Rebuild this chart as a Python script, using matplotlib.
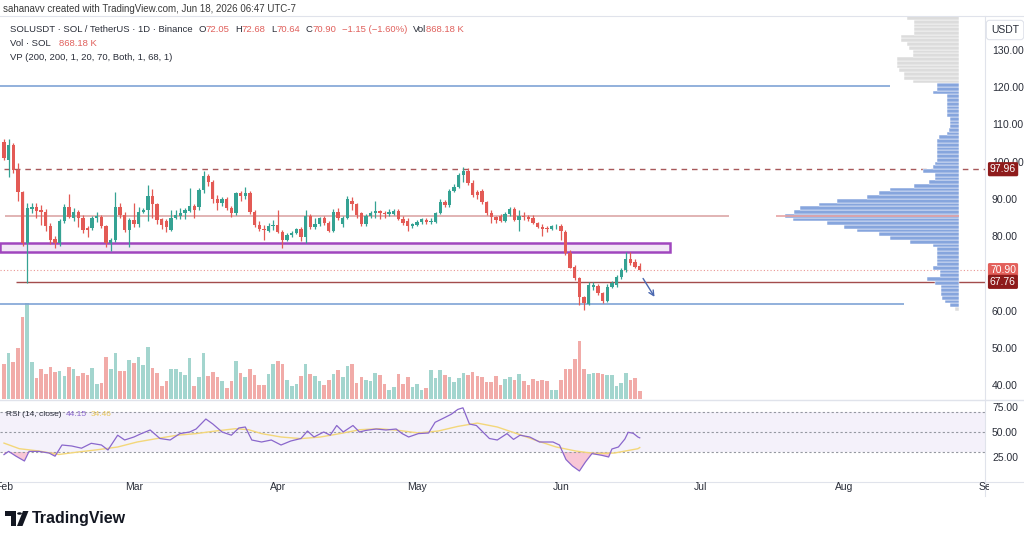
import numpy as np
import matplotlib
matplotlib.use('Agg')
import matplotlib.pyplot as plt
from matplotlib.patches import Rectangle, Polygon, Circle
from matplotlib.transforms import blended_transform_factory, Bbox, TransformedBbox
from matplotlib.lines import Line2D

plt.rcParams['font.family'] = ['Liberation Sans', 'DejaVu Sans']

W, H = 1024, 537

# ---------------- data ----------------
# daily candles, day 0 = 2026-02-01
open_ = [105.3, 100.4, 104.4, 97.7, 91.9, 78.1, 87.3, 87.8, 86.9, 86.5,
         82.6, 79.2, 78.1, 84.2, 87.9, 85.0, 86.4, 85.0, 82.3, 82.1,
         84.9, 85.2, 82.6, 78.1, 79.0, 87.9, 85.7, 81.7, 84.3, 83.4,
         86.6, 87.0, 90.8, 88.6, 84.5, 84.0, 81.7, 84.8, 85.4, 86.3,
         86.8, 88.1, 87.7, 92.4, 96.1, 94.6, 89.9, 89.0, 89.9, 87.5,
         86.1, 91.5, 90.8, 91.6, 86.6, 83.0, 82.0, 81.5, 82.6, 83.0,
         81.2, 79.0, 80.3, 80.8, 81.8, 79.7, 85.4, 82.4, 83.3, 84.8,
         83.6, 81.4, 86.6, 83.4, 84.9, 89.3, 88.6, 86.1, 83.3, 85.4,
         86.1, 86.8, 86.1, 85.9, 86.0, 86.8, 84.5, 84.2, 82.6, 83.0,
         83.9, 84.3, 83.7, 83.9, 86.1, 89.2, 88.4, 92.2, 93.3, 96.4,
         97.6, 94.2, 91.9, 92.2, 89.2, 86.3, 85.1, 85.4, 84.2, 86.0,
         87.2, 84.4, 85.4, 85.2, 84.8, 83.5, 82.4, 82.2, 82.0, 82.6,
         82.8, 81.2, 75.6, 71.8, 68.7, 63.6, 61.8, 66.5, 66.7, 64.7,
         62.5, 66.5, 66.9, 69.1, 70.9, 74.0, 73.2, 72.05]
high = [106.0, 106.0, 104.9, 99.5, 92.0, 89.0, 88.9, 88.8, 88.3, 87.2,
        83.5, 80.0, 84.6, 88.5, 91.3, 87.5, 87.1, 85.7, 82.8, 85.4,
        86.6, 85.7, 83.0, 79.4, 91.9, 89.0, 86.6, 85.0, 89.0, 87.9,
        87.5, 93.7, 92.6, 89.0, 85.0, 84.5, 87.0, 87.0, 87.5, 87.5,
        92.8, 88.6, 93.0, 97.5, 96.6, 95.0, 91.0, 90.5, 90.6, 88.0,
        91.9, 92.1, 93.3, 92.0, 87.0, 84.0, 83.0, 83.5, 84.3, 87.0,
        81.7, 80.8, 81.5, 82.3, 82.5, 87.0, 86.0, 85.0, 85.2, 85.5,
        84.2, 87.2, 87.5, 85.5, 90.8, 90.6, 89.0, 86.6, 86.0, 86.8,
        89.5, 87.0, 86.8, 87.2, 87.2, 87.2, 85.4, 85.0, 83.6, 84.3,
        84.8, 85.0, 84.8, 86.6, 89.9, 89.7, 92.7, 94.0, 96.9, 98.5,
        98.2, 95.0, 92.4, 92.7, 89.5, 87.0, 85.4, 86.0, 86.5, 87.7,
        87.7, 87.0, 86.6, 85.7, 85.7, 83.9, 83.3, 82.6, 83.0, 83.3,
        83.3, 81.7, 76.3, 72.3, 69.1, 64.0, 67.8, 67.8, 67.2, 65.0,
        67.2, 68.0, 69.6, 71.5, 75.8, 75.8, 74.0, 72.68]
low = [100.4, 96.0, 97.0, 89.3, 77.5, 67.5, 86.1, 84.8, 83.0, 81.5,
       78.0, 76.7, 77.4, 83.5, 84.8, 84.0, 82.5, 80.8, 79.7, 81.6,
       83.9, 82.1, 77.0, 75.9, 78.5, 85.0, 81.0, 77.2, 82.4, 82.5,
       86.1, 84.2, 84.8, 83.4, 82.0, 81.2, 81.5, 84.5, 84.5, 84.5,
       86.6, 85.0, 87.0, 91.5, 93.5, 89.0, 87.0, 88.0, 87.0, 85.2,
       85.7, 89.5, 90.0, 86.0, 82.5, 81.5, 79.0, 81.2, 81.7, 80.9,
       76.7, 78.8, 79.8, 80.5, 78.8, 78.1, 82.0, 82.0, 82.8, 83.0,
       81.0, 81.2, 84.3, 82.5, 84.7, 87.0, 85.0, 82.7, 82.8, 85.0,
       85.0, 84.5, 84.8, 85.5, 85.7, 84.3, 83.0, 81.5, 82.1, 82.6,
       83.3, 83.3, 83.4, 83.5, 85.9, 87.7, 87.9, 91.8, 92.8, 94.4,
       93.7, 90.5, 90.1, 88.7, 85.7, 83.5, 83.6, 83.9, 83.9, 85.4,
       84.2, 81.5, 84.4, 84.2, 83.3, 82.1, 80.0, 81.2, 81.6, 82.0,
       79.0, 75.0, 71.4, 68.3, 61.6, 60.2, 61.6, 65.6, 64.2, 62.0,
       62.3, 66.0, 66.5, 68.5, 70.5, 72.3, 71.4, 70.64]
close = [100.9, 104.4, 97.7, 91.9, 78.1, 87.5, 87.8, 86.8, 86.5, 82.6,
         79.0, 78.1, 84.2, 87.9, 85.2, 86.4, 85.0, 81.7, 81.6, 84.8,
         85.4, 82.6, 78.1, 79.0, 87.9, 85.7, 81.7, 84.3, 83.4, 86.6,
         87.0, 90.8, 88.6, 84.3, 83.0, 82.5, 84.8, 85.7, 86.3, 87.0,
         88.1, 86.9, 92.4, 96.1, 94.6, 89.9, 89.0, 89.9, 87.5, 86.1,
         91.5, 90.8, 91.6, 86.6, 83.0, 81.8, 81.7, 82.6, 83.0, 81.2,
         79.0, 80.3, 80.8, 81.8, 79.7, 85.4, 82.4, 83.3, 84.8, 83.6,
         81.4, 86.6, 84.8, 84.9, 90.1, 88.6, 85.7, 83.3, 85.4, 86.1,
         86.8, 86.1, 85.9, 86.5, 86.8, 84.5, 83.6, 82.6, 83.3, 83.9,
         84.5, 83.9, 84.2, 86.1, 89.2, 88.4, 92.2, 93.3, 96.4, 97.6,
         94.2, 91.0, 91.0, 89.2, 86.3, 85.1, 84.4, 84.2, 86.0, 87.2,
         84.4, 85.4, 85.1, 84.5, 83.5, 82.4, 82.0, 81.8, 82.6, 82.8,
         81.5, 75.4, 71.6, 68.7, 63.8, 62.0, 66.9, 67.0, 64.7, 62.5,
         66.5, 67.4, 69.1, 70.9, 73.8, 72.7, 71.8, 70.90]
# volume, relative units (last bar = 868.18 K)
volume = [105, 138, 112, 153, 247, 288, 111, 63, 91, 74,
          95, 80, 85, 68, 97, 89, 69, 79, 72, 93,
          45, 47, 127, 89, 138, 83, 84, 117, 108, 126,
          103, 156, 93, 79, 38, 53, 90, 90, 80, 73,
          123, 38, 66, 138, 70, 82, 66, 55, 33, 55,
          113, 78, 67, 89, 72, 42, 42, 76, 106, 115,
          104, 57, 40, 44, 68, 106, 75, 69, 55, 41,
          56, 74, 87, 66, 98, 105, 49, 65, 58, 53,
          79, 73, 46, 28, 37, 75, 44, 65, 36, 46,
          28, 34, 87, 62, 87, 73, 67, 50, 64, 78,
          71, 80, 68, 67, 50, 50, 69, 43, 60, 67,
          56, 74, 54, 41, 59, 53, 58, 53, 27, 27,
          58, 90, 91, 121, 173, 89, 75, 77, 78, 75,
          73, 72, 39, 48, 79, 56, 62, 24]
# RSI(14) and its moving average, read as (day, value) points
rsi_day = [0, 1, 2.6, 4.4, 5.4, 7.5, 9.7, 11, 12.5, 14.6, 16.7, 18.8, 21, 22.4,
           24.5, 26, 28, 29.4, 31.5, 33.6, 35.8, 37.9, 40, 41.4, 43.5, 45, 47,
           49, 50.6, 52, 53.4, 55.5, 57.6, 59.7, 61.8, 64, 65.4, 66.8, 68.9,
           70.3, 71.7, 73.1, 75.2, 76.6, 78, 80.2, 82.3, 84.5, 85.8, 87.2, 89.3,
           91.5, 92.9, 95, 96.4, 97.8, 98.9, 100.3, 101.8, 103.2, 104.6, 106.3,
           108.4, 109.8, 111.2, 113.3, 115.4, 118.3, 119.7, 121.1, 122.5, 124,
           125.3, 126.7, 128.8, 130.3, 131, 132.4, 133.8, 134.5, 135.6, 136.6, 137]
rsi_val = [27.4, 30.6, 25.8, 21, 30.6, 30.6, 29, 25.8, 37, 36, 33.8, 38.7, 37, 32,
           46.8, 42, 45, 48, 52, 43.5, 42, 48.4, 50, 53, 63, 58, 50,
           46.8, 54, 55, 42, 40, 42, 37, 41, 43.5, 51, 45, 50,
           46.8, 56.5, 50, 56.5, 50, 51.6, 53, 52, 53, 48.4, 45, 48.4,
           49, 59.7, 64.5, 67.8, 72.6, 74.2, 58, 56.5, 50, 43.5, 42,
           48.4, 42.6, 46.8, 45, 40, 40, 37, 22.5, 16, 11,
           20, 28.4, 26.7, 25, 33, 35, 43, 49.7, 48.7, 45, 44.15]
rsi_ma_day = [0, 3.3, 7.5, 11.8, 16, 20.2, 24.5, 28.7, 32.9, 37.2, 41.4, 45.6, 49.9,
              52.7, 55.5, 59.7, 64, 68.2, 72.4, 76.7, 80.9, 85.1, 89.3, 93.6, 97.8,
              102, 106.3, 110.5, 114.7, 119, 123.2, 127.4, 131.6, 136.6, 137]
rsi_ma_val = [38.9, 33.3, 31, 27.5, 30, 32.3, 35, 40, 43.4, 46.7, 48.4, 51, 53.3,
              52.3, 48.4, 45, 43.4, 45, 48.4, 52.3, 53.3, 51.6, 49, 51, 55.6,
              58.9, 55, 48.4, 41.5, 35, 31, 28.4, 29, 33.3, 34.46]
# volume profile: bin lower price and relative volume
vp_price = list(range(60, 139))
vp_volume = [4, 9, 14, 17, 18, 18, 18, 24, 32, 19,
             19, 26, 22, 22, 22, 22, 22, 26, 49, 69,
             80, 102, 115, 132, 166, 174, 165, 159, 140, 122,
             92, 80, 69, 45, 30, 24, 24, 36, 26, 24,
             22, 22, 22, 22, 22, 22, 20, 12, 10, 9,
             9, 9, 12, 12, 12, 12, 12, 12, 26, 22,
             22, 46, 55, 55, 60, 62, 62, 62, 46, 46,
             50, 52, 58, 58, 45, 45, 45, 45, 52]
month_days = [0, 28, 59, 89, 120, 150, 181, 212]
month_labels = ['Feb', 'Mar', 'Apr', 'May', 'Jun', 'Jul', 'Aug', 'Sep']
# 70.00 is hidden behind the last-price label in the screenshot
price_ticks = [40, 50, 60, 80, 90, 100, 110, 120, 130]
rsi_ticks = [25, 50, 75]
level_resist = 97.96
level_poc = 85.5
level_current = 70.90
level_support = 67.76
zone_low, zone_high = 75.85, 78.1
range_high = 120.2
range_low = 61.8
arrow_from = (137.4, 69.3)
arrow_to = (140.5, 63.1)

# ---------------- figure ----------------
fig = plt.figure(figsize=(W / 100, H / 100), dpi=100)
fig.patch.set_facecolor('white')


def fx(x):
    return x / W


def fy(y):
    return 1 - y / H


def rect(x0, y0, x1, y1):
    return [x0 / W, 1 - y1 / H, (x1 - x0) / W, (y1 - y0) / H]


PR = 985
XL = (-0.86, 211.4)
ax_v = fig.add_axes(rect(0, 16, PR, 399))
ax = fig.add_axes(rect(0, 16, PR, 399))
ax_r = fig.add_axes(rect(0, 401, PR, 482))
for a in (ax_v, ax, ax_r):
    a.set_xlim(*XL)
    for s in a.spines.values():
        s.set_visible(False)
ax.patch.set_visible(False)
ax_v.set_xticks([]); ax_v.set_yticks([])
ax_v.set_ylim(0, 1149)
ax.set_ylim(36.35, 139.03)
ax_r.set_ylim(0, 81)

days = np.arange(len(close))
o = np.array(open_); c = np.array(close); hi = np.array(high); lo = np.array(low)
up = c >= o
UP, DN = '#35a293', '#e35a55'
cols = np.where(up, UP, DN)

# volume
vcols = np.where(up, '#a3d5ce', '#f1aba8')
ax_v.bar(days, volume, width=0.78, color=vcols, linewidth=0)

# levels
ax.hlines(range_high, XL[0], 191, color='#7fa3d6', lw=1.2, zorder=1)
ax.hlines(range_low, XL[0], 194, color='#7fa3d6', lw=1.2, zorder=1)
ax.hlines(level_poc, 0.2, 156.3, color='#dba7a7', lw=1.2, zorder=1)
ax.hlines(level_resist, 0, XL[1], color='#a8585a', lw=1.0, linestyles=(0, (4, 3.5)), zorder=1)
ax.hlines(level_current, XL[0], XL[1], color='#e99592', lw=0.8, linestyles=(0, (1, 2)), zorder=1)
ax.hlines(level_support, 2.5, XL[1], color='#a34c4c', lw=1.0, zorder=1)
ax.add_patch(Rectangle((XL[0], zone_low), 143.5 - XL[0], zone_high - zone_low,
                       fc='#f2e7f6', ec='#a046be', lw=1.8, zorder=1.5))

# volume profile
VP_RIGHT = 205.8
px_day = 4.64
for p, v in zip(vp_price, vp_volume):
    col = '#dcdcdc' if (p >= 121 or p < 61) else '#86a5dd'
    ax.barh(p + 0.5, v / px_day, left=VP_RIGHT - v / px_day, height=1.0,
            color=col, edgecolor='white', linewidth=0.35, zorder=2)
ax.hlines(level_poc, 166.4, VP_RIGHT, color='#e8a3a3', lw=1.2, zorder=2.5)

# candles
ax.vlines(days, lo, hi, color=cols, lw=0.9, zorder=3)
body = np.maximum(np.abs(c - o), 0.2)
ax.bar(days, body, bottom=np.minimum(o, c), width=0.72, color=cols, linewidth=0, zorder=3.5)

# arrow
ax.annotate('', xy=arrow_to, xytext=arrow_from,
            arrowprops=dict(arrowstyle='->', color='#4a68b0', lw=1.0, mutation_scale=9), zorder=4)

# price axis
ax.yaxis.tick_right()
ax.set_yticks(price_ticks)
ax.set_yticklabels([f'{v:.2f}' for v in price_ticks])
ax.tick_params(axis='y', length=0, pad=5, labelsize=7.5, labelcolor='#2a2e39')
ax.tick_params(axis='x', bottom=False, labelbottom=False)

bt = blended_transform_factory(fig.transFigure, ax.transData)
for val, col in [(level_resist, '#8e1b1b'), (level_current, '#e3605b'), (level_support, '#8e1b1b')]:
    fig.text(fx(990), val, f'{val:.2f}', transform=bt, color='white', fontsize=7.5,
             va='center', ha='left', zorder=10,
             bbox=dict(boxstyle='round,pad=0.2,rounding_size=0.15', fc=col, ec='none'))
fig.text(fx(991), fy(30), 'USDT', fontsize=7.5, color='#2a2e39', va='center', ha='left',
         bbox=dict(boxstyle='round,pad=0.45,rounding_size=0.3', fc='white', ec='#e0e3eb', lw=0.8))

# RSI pane
ax_r.axhspan(30, 70, color='#7e57c2', alpha=0.08, lw=0)
for lv in (70, 50, 30):
    ax_r.axhline(lv, color='#9598a1', lw=0.8, ls=(0, (2, 2)))
rd = np.array(rsi_day); rv = np.array(rsi_val)
ax_r.fill_between(rd, rv, 30, where=rv < 30, interpolate=True, color='#f7b9cc', alpha=0.8, lw=0)
ax_r.plot(rsi_ma_day, rsi_ma_val, color='#f3d77a', lw=1.0)
ax_r.plot(rd, rv, color='#8a67cc', lw=0.9)
ax_r.yaxis.tick_right()
ax_r.set_yticks(rsi_ticks)
ax_r.set_yticklabels([f'{v:.2f}' for v in rsi_ticks])
ax_r.tick_params(axis='y', length=0, pad=5, labelsize=7.5, labelcolor='#2a2e39')
ax_r.tick_params(axis='x', bottom=False, labelbottom=False)

# month labels (the first and last are cut by the pane edges, as in the screenshot)
clipbb = TransformedBbox(Bbox([[0, 0], [989 / W, 1]]), fig.transFigure)
dt = blended_transform_factory(ax_r.transData, fig.transFigure)
for d, lab in zip(month_days, month_labels):
    t = fig.text(d, fy(487), lab, transform=dt, fontsize=7.5, color='#2a2e39',
                 ha='center', va='center')
    t.set_clip_on(True)
    t.set_clip_box(clipbb)

# separators
sep = '#e0e3eb'
fig.add_artist(Line2D([0, 1], [fy(16), fy(16)], transform=fig.transFigure, color=sep, lw=0.8))
fig.add_artist(Line2D([0, 1], [fy(400), fy(400)], transform=fig.transFigure, color=sep, lw=1.0))
fig.add_artist(Line2D([0, 1], [fy(482), fy(482)], transform=fig.transFigure, color=sep, lw=0.8))
fig.add_artist(Line2D([fx(PR), fx(PR)], [fy(16), fy(496)], transform=fig.transFigure, color=sep, lw=0.8))

# header texts
renderer = fig.canvas.get_renderer()


def chain(x, y, groups, size, gap):
    """groups: list of lists of (text, colour); parts of one group touch, groups are gap px apart"""
    for g in groups:
        for s, colr in g:
            t = fig.text(fx(x), fy(y), s, color=colr, fontsize=size, va='center', ha='left')
            x += t.get_window_extent(renderer=renderer).width
        x += gap
    return x


DK, RD = '#2a2e39', '#e0605c'
fig.text(fx(3), fy(9), 'sahanavv created with TradingView.com, Jun 18, 2026 06:47 UTC-7',
         fontsize=7.0, color='#3a3a3a', va='center', ha='left')
hs = 6.8
chain(10, 30, [[('SOLUSDT · SOL / TetherUS · 1D · Binance', DK)],
               [('O', DK), ('72.05', RD)],
               [('H', DK), ('72.68', RD)],
               [('L', DK), ('70.64', RD)],
               [('C', DK), ('70.90', RD)],
               [('\u22121.15 (\u22121.60%)', RD)],
               [('Vol', DK), ('868.18 K', RD)]], hs, 5.5)
chain(10, 44, [[('Vol · SOL', DK)], [('868.18 K', RD)]], hs, 8)
chain(10, 58, [[('VP (200, 200, 1, 20, 70, Both, 1, 68, 1)', DK)]], hs, 0)
chain(6, 414, [[('RSI (14, close)', DK)], [('44.15', '#8a67cc')], [('34.46', '#e9c85a')]], 6.0, 4)

# TradingView logo
def pxpoly(pts):
    return [(fx(x), fy(y)) for x, y in pts]


fig.add_artist(Polygon(pxpoly([(5, 511), (15.5, 511), (15.5, 526), (10.5, 526), (10.5, 516), (5, 516)]),
                       closed=True, fc='#131722', ec='none', transform=fig.transFigure))
fig.add_artist(Circle((fx(19.5), fy(513.5)), 2.4 / W, fc='#131722', ec='none', transform=fig.transFigure))
fig.add_artist(Polygon(pxpoly([(23, 511), (28.5, 511), (22.5, 526), (17, 526)]),
                       closed=True, fc='#131722', ec='none', transform=fig.transFigure))
fig.text(fx(32), fy(518.5), 'TradingView', fontsize=11.5, fontweight='bold', color='#131722',
         va='center', ha='left')

fig.savefig('out.png', dpi=100, facecolor='white')
